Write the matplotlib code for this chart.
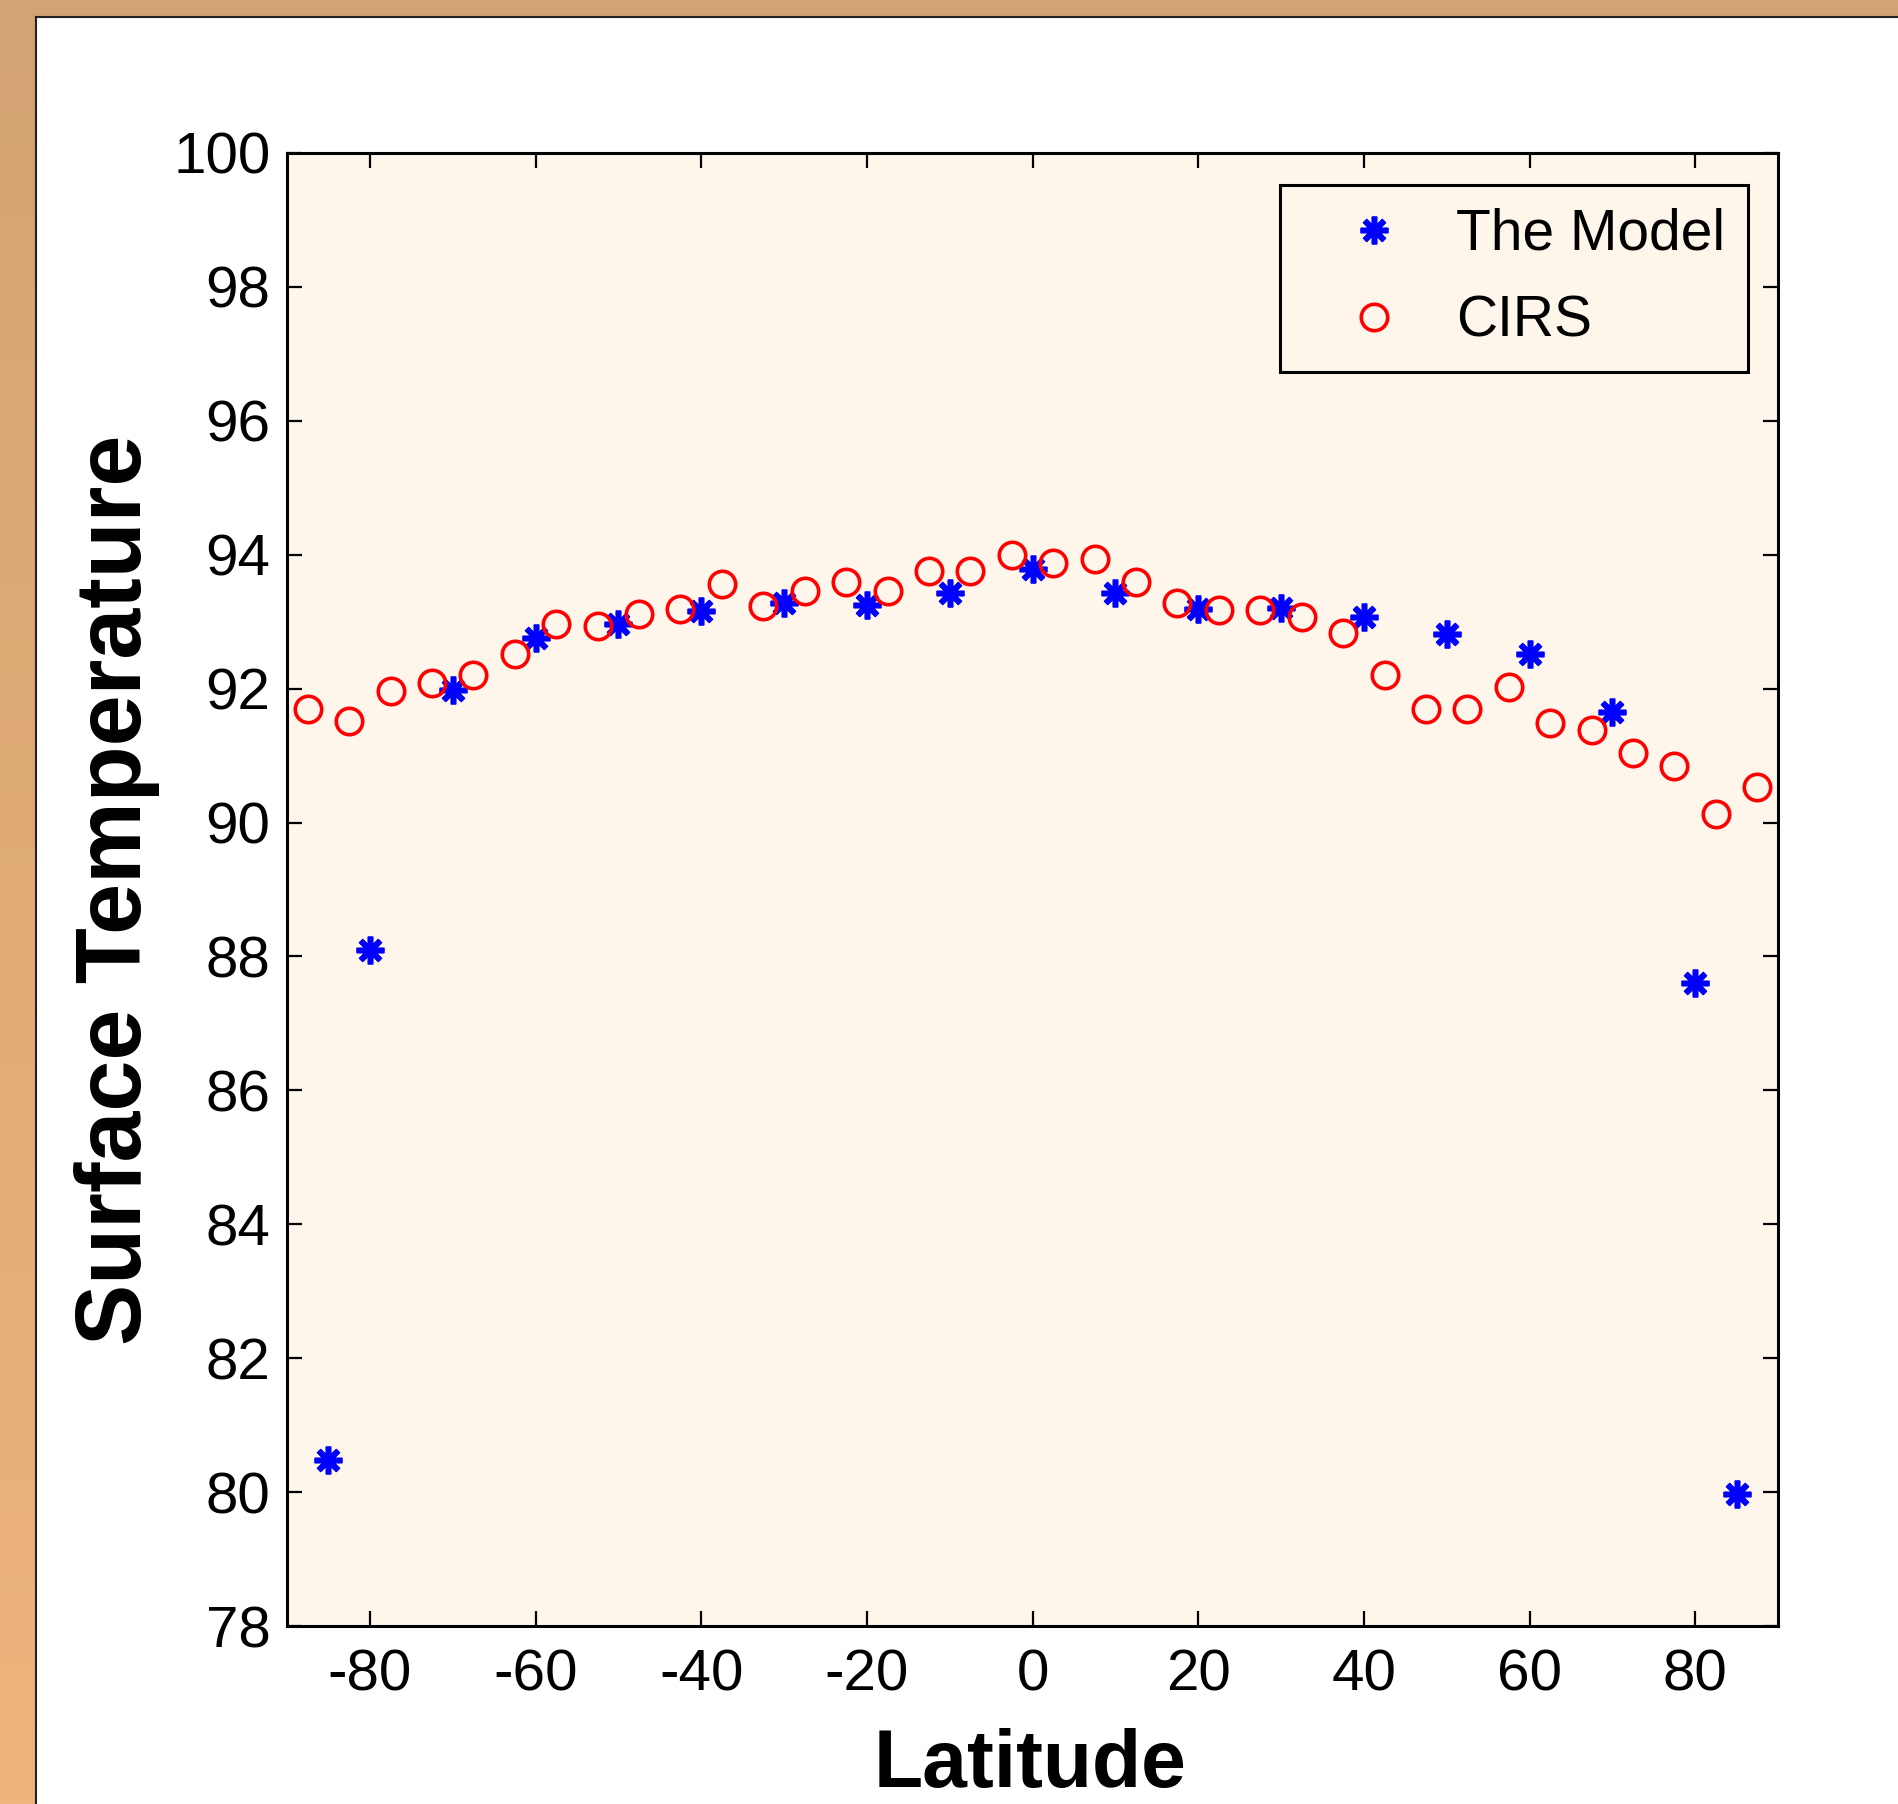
import numpy as np
import matplotlib.pyplot as plt
from matplotlib.patches import Rectangle

# model output, one value per 10 deg latitude (plus the two polar points)
lat_model = [-85, -80, -70, -60, -50, -40, -30, -20, -10, 0, 10, 20, 30, 40, 50, 60, 70, 80, 85]
temp_model = [80.48, 88.09, 91.98, 92.76, 92.97, 93.16, 93.28, 93.25, 93.43, 93.79,
              93.43, 93.19, 93.21, 93.07, 92.81, 92.52, 91.65, 87.60, 79.97]

# CIRS retrievals in 5 deg bins
lat_cirs = [-87.5, -82.5, -77.5, -72.5, -67.5, -62.5, -57.5, -52.5, -47.5, -42.5, -37.5, -32.5,
            -27.5, -22.5, -17.5, -12.5, -7.5, -2.5, 2.5, 7.5, 12.5, 17.5, 22.5, 27.5,
            32.5, 37.5, 42.5, 47.5, 52.5, 57.5, 62.5, 67.5, 72.5, 77.5, 82.5, 87.5]
temp_cirs = [91.69, 91.51, 91.96, 92.09, 92.21, 92.52, 92.96, 92.94, 93.12, 93.19, 93.57, 93.23,
             93.46, 93.59, 93.46, 93.75, 93.75, 93.99, 93.88, 93.93, 93.59, 93.28, 93.17, 93.17,
             93.07, 92.83, 92.21, 91.69, 91.69, 92.03, 91.49, 91.38, 91.04, 90.84, 90.13, 90.53]

xticks = [-80, -60, -40, -20, 0, 20, 40, 60, 80]
yticks = [78, 80, 82, 84, 86, 88, 90, 92, 94, 96, 98, 100]

W, H = 1898, 1804
cream = '#FEF6EA'
top_col = np.array([212, 163, 115]) / 255
bot_col = np.array([237, 180, 123]) / 255

plt.rcParams['font.family'] = ['Liberation Sans', 'DejaVu Sans']
plt.rcParams['axes.unicode_minus'] = False

fig = plt.figure(figsize=(W / 100, H / 100), dpi=100, facecolor='white')

# orange frame around the white panel
bg = fig.add_axes([0, 0, 1, 1], zorder=-10)
bg.axis('off')
grad = np.linspace(0, 1, 200)[:, None, None]
band = top_col * (1 - grad) + bot_col * grad
bg.imshow(band, extent=(0, 36, H, 0), aspect='auto')
bg.add_patch(Rectangle((0, 0), W, 17, color=top_col, lw=0))
bg.plot([36, 36], [17, H], color='#222222', lw=1.5)
bg.plot([36, W], [17, 17], color='#222222', lw=1.5)
bg.set_xlim(0, W)
bg.set_ylim(H, 0)

ax = fig.add_axes([287 / W, 1 - 1626 / H, (1778 - 287) / W, (1626 - 153) / H])
ax.set_facecolor(cream)

ax.plot(lat_model, temp_model, linestyle='none', marker=(8, 2, 0), markersize=20,
        markeredgewidth=4, color='#0000FF', label='The Model')
ax.plot(lat_cirs, temp_cirs, linestyle='none', marker='o', markersize=19,
        markeredgewidth=2.6, markerfacecolor='none', markeredgecolor='#FF0000', label='CIRS')

ax.set_xlim(-90, 90)
ax.set_ylim(78, 100)
ax.set_xticks(xticks)
ax.set_yticks(yticks)
ax.tick_params(direction='in', length=11, width=1.6, top=True, right=True,
               labelsize=42, pad=12, colors='black')
ax.tick_params(axis='x', pad=16)
for s in ax.spines.values():
    s.set_linewidth(2.2)

leg = ax.legend(loc='upper right', bbox_to_anchor=(1748 / W, 1 - 185 / H),
                bbox_transform=fig.transFigure, fontsize=41, frameon=True, fancybox=False,
                borderpad=0.4, borderaxespad=0, handlelength=2.5, handletextpad=0.2,
                labelspacing=0.58, facecolor=cream, framealpha=1, edgecolor='black')
leg.get_frame().set_linewidth(2.2)

fig.text(1030 / W, 1 - 1787 / H, 'Latitude', ha='center', va='baseline',
         fontsize=58, fontweight='bold')
fig.text(117 / W, 1 - 890 / H, 'Surface Temperature', ha='center', va='center',
         rotation=90, fontsize=66, fontweight='bold')

fig.savefig('out.png', dpi=100, facecolor='white')
